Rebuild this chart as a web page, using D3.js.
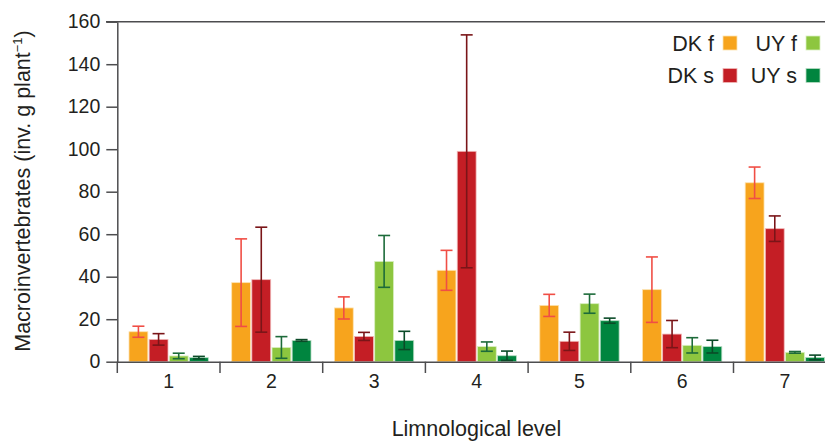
<!DOCTYPE html>
<html><head><meta charset="utf-8">
<script src="https://cdn.jsdelivr.net/npm/d3@7"></script>
<style>body{margin:0;background:#fff}svg{display:block}text{font-family:"Liberation Sans",Arial,Helvetica,sans-serif;fill:#231f20}</style>
</head><body><div id="chart"></div>
<script>
const groups = ["1","2","3","4","5","6","7"];
const seriesNames = ["DK f","DK s","UY f","UY s"];
const dkF = [14.1, 37.2, 25.3, 43.0, 26.5, 33.9, 84.2];
const dkFErr = [2.6, 20.6, 5.2, 9.4, 5.2, 15.4, 7.4];
const dkS = [10.5, 38.6, 11.9, 99.0, 9.6, 13.0, 62.6];
const dkSErr = [2.7, 24.7, 1.9, 54.8, 4.3, 6.4, 6.0];
const uyF = [2.7, 6.7, 47.2, 7.1, 27.3, 7.7, 4.4];
const uyFErr = [1.3, 5.1, 12.2, 2.2, 4.5, 3.6, 0.4];
const uyS = [1.9, 10.0, 10.0, 2.8, 19.3, 7.1, 2.0];
const uySErr = [0.6, 0.4, 4.3, 2.2, 1.2, 3.0, 1.1];
const yTicks = [0,20,40,60,80,100,120,140,160];

const W = 825, H = 441;
const colors = {"DK f":"#f7a41d","DK s":"#c41e25","UY f":"#8dc63f","UY s":"#00853f"};
const strokes = {"DK f":"#fde3b0","DK s":"#f0b8b8","UY f":"#d9efc0","UY s":"#b8dcc4"};
const errColors = {"DK f":"#f04e45","DK s":"#7a1518","UY f":"#1d6b3a","UY s":"#0b4b28"};
const vals = {"DK f":dkF,"DK s":dkS,"UY f":uyF,"UY s":uyS};
const errs = {"DK f":dkFErr,"DK s":dkSErr,"UY f":uyFErr,"UY s":uySErr};

const svg = d3.select("#chart").append("svg").attr("width",W).attr("height",H);
const left = 117.3, groupW = 102.7;
const x0 = d3.scaleBand().domain(groups).range([left, left + groups.length*groupW]).padding(0);
const x1 = d3.scaleBand().domain(seriesNames).range([0, x0.bandwidth()]).paddingInner(0.065).paddingOuter(0.58);
const y = d3.scaleLinear().domain([0,160]).range([361.7, 21.7]);

// top line
svg.append("line").attr("x1",106).attr("x2",W).attr("y1",y(160)).attr("y2",y(160)).attr("stroke","#4d4d4f").attr("stroke-width",1.5);

const data = [];
groups.forEach((g,i)=>seriesNames.forEach(s=>data.push({g,s,v:vals[s][i],e:errs[s][i]})));

svg.selectAll("rect.bar").data(data).enter().append("rect")
  .attr("x",d=>x0(d.g)+x1(d.s)).attr("width",x1.bandwidth())
  .attr("y",d=>y(d.v)).attr("height",d=>y(0)-y(d.v))
  .attr("fill",d=>colors[d.s]).attr("stroke",d=>strokes[d.s]).attr("stroke-width",0.8);

const eg = svg.selectAll("g.err").data(data).enter().append("g")
  .attr("stroke",d=>errColors[d.s]).attr("stroke-width",1.6);
eg.append("line").attr("x1",d=>x0(d.g)+x1(d.s)+x1.bandwidth()/2).attr("x2",d=>x0(d.g)+x1(d.s)+x1.bandwidth()/2)
  .attr("y1",d=>y(d.v+d.e)).attr("y2",d=>y(Math.max(0,d.v-d.e)));
[1,-1].forEach(sg=>{
  eg.append("line").attr("x1",d=>x0(d.g)+x1(d.s)+x1.bandwidth()/2-6).attr("x2",d=>x0(d.g)+x1(d.s)+x1.bandwidth()/2+6)
    .attr("y1",d=>y(Math.max(0,d.v+sg*d.e))).attr("y2",d=>y(Math.max(0,d.v+sg*d.e)));
});

// y axis
const ya = svg.append("g").attr("transform",`translate(${left},0)`)
  .call(d3.axisLeft(y).tickValues(yTicks).tickSize(11).tickPadding(6).tickSizeOuter(0));
ya.select(".domain").attr("stroke","#4d4d4f").attr("stroke-width",1.5);
ya.selectAll(".tick line").attr("stroke","#4d4d4f").attr("stroke-width",1.5);
ya.selectAll("text").style("font-size","19.5px").attr("fill","#231f20").attr("font-family",null);
svg.append("line").attr("x1",left).attr("x2",left).attr("y1",y(0)).attr("y2",373).attr("stroke","#4d4d4f").attr("stroke-width",1.5);

// x axis
const xa = svg.append("g").attr("transform",`translate(0,${y(0)})`)
  .call(d3.axisBottom(x0).tickSize(0).tickPadding(12));
xa.select(".domain").attr("stroke","#4d4d4f").attr("stroke-width",1.5);
xa.selectAll("text").style("font-size","19.5px").attr("fill","#231f20").attr("font-family",null);
svg.selectAll("line.xt").data(groups.slice(1)).enter().append("line").attr("class","xt")
  .attr("x1",d=>x0(d)).attr("x2",d=>x0(d)).attr("y1",y(0)).attr("y2",373)
  .attr("stroke","#4d4d4f").attr("stroke-width",1.5);

// axis titles
svg.append("text").attr("x",476.5).attr("y",435.5).attr("text-anchor","middle").style("font-size","21.5px").text("Limnological level");
const yl = svg.append("text").attr("transform","translate(29.5,191) rotate(-90)").attr("text-anchor","middle").style("font-size","21.5px");
yl.append("tspan").text("Macroinvertebrates (inv. g plant");
yl.append("tspan").attr("dy",-8).style("font-size","13px").text("−1");
yl.append("tspan").attr("dy",8).text(")");

// legend
const leg = [
  {s:"DK f", tx:714, sx:723, y:43},
  {s:"UY f", tx:797, sx:806, y:43},
  {s:"DK s", tx:714, sx:723, y:75.5},
  {s:"UY s", tx:797, sx:806, y:75.5}
];
const lg = svg.selectAll("g.leg").data(leg).enter().append("g");
lg.append("rect").attr("x",d=>d.sx).attr("y",d=>d.y-7).attr("width",14).attr("height",14)
  .attr("fill",d=>colors[d.s]).attr("stroke",d=>strokes[d.s]).attr("stroke-width",0.8);
lg.append("text").attr("x",d=>d.tx).attr("y",d=>d.y+7.5).attr("text-anchor","end").style("font-size","21.5px").text(d=>d.s);
</script></body></html>
